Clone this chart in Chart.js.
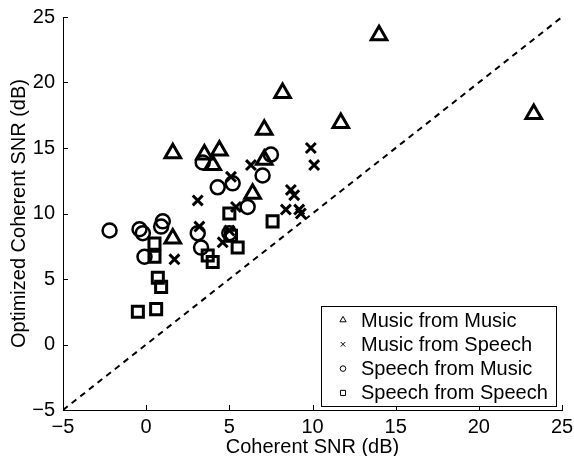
<!DOCTYPE html>
<html>
<head>
<meta charset="utf-8">
<script src="https://cdn.jsdelivr.net/npm/chart.js@4/dist/chart.umd.min.js"></script>
<style>
  html, body { margin: 0; padding: 0; background: #fff; }
  #wrap { width: 574px; height: 456px; }
</style>
</head>
<body>
<div id="wrap"><canvas id="c" width="574" height="456"></canvas></div>
<script>
// ---- data ----
const seriesNames = ["Music from Music", "Music from Speech", "Speech from Music", "Speech from Speech"];

const musicFromMusicX = [14.0, 23.3, 8.2, 7.1, 11.7, 1.6, 3.5, 4.4, 4.0, 7.1, 6.4, 1.6];
const musicFromMusicY = [23.6, 17.6, 19.2, 16.4, 16.9, 14.6, 14.5, 14.8, 13.7, 14.1, 11.5, 8.1];

const musicFromSpeechX = [9.9, 10.1, 8.7, 8.9, 8.4, 9.3, 9.2, 6.3, 3.1, 5.1, 5.4, 3.2, 5.0, 4.6, 1.7];
const musicFromSpeechY = [15.0, 13.7, 11.8, 11.4, 10.3, 10.0, 10.3, 13.7, 11.0, 12.8, 10.5, 9.0, 8.7, 7.8, 6.5];

const speechFromMusicX = [-2.2, -0.4, -0.2, 0.9, 1.0, -0.1, 3.1, 3.3, 5.0, 4.3, 5.2, 7.0, 7.5, 6.1, 3.4];
const speechFromMusicY = [8.7, 8.8, 8.5, 9.0, 9.4, 6.7, 8.5, 7.4, 8.5, 12.0, 12.3, 12.9, 14.5, 10.5, 13.9];

const speechFromSpeechX = [-0.5, 0.6, 0.7, 0.9, 0.5, 0.5, 3.7, 4.0, 5.1, 5.0, 5.5, 7.6];
const speechFromSpeechY = [2.5, 2.7, 5.1, 4.4, 6.7, 7.7, 6.8, 6.3, 8.3, 10.0, 7.4, 9.4];

const diagonal = [-5, 25];           // y = x reference line end points
const xTicks = [-5, 0, 5, 10, 15, 20, 25];
const yTicks = [-5, 0, 5, 10, 15, 20, 25];
const xTitle = "Coherent SNR (dB)";
const yTitle = "Optimized Coherent SNR (dB)";

// ---- build ----
function pts(xs, ys) { return xs.map((x, i) => ({ x: x, y: ys[i] })); }
const fmt = v => (v < 0 ? "\u2212" + Math.abs(v) : String(v));
const FONT = "'Liberation Sans', Arial, Helvetica, sans-serif";

const styles = [
  { pointStyle: 'triangle', radius: 9, width: 3, legendRadius: 3.6 },
  { pointStyle: 'crossRot', radius: 7, width: 3, legendRadius: 3.2 },
  { pointStyle: 'circle', radius: 7, width: 2.5, legendRadius: 2.8 },
  { pointStyle: 'rect', radius: 7.8, width: 3, legendRadius: 3.6 }
];
const seriesData = [
  pts(musicFromMusicX, musicFromMusicY),
  pts(musicFromSpeechX, musicFromSpeechY),
  pts(speechFromMusicX, speechFromMusicY),
  pts(speechFromSpeechX, speechFromSpeechY)
];

const datasets = seriesNames.map((name, i) => ({
  type: 'scatter',
  label: name,
  data: seriesData[i],
  pointStyle: styles[i].pointStyle,
  pointRadius: styles[i].radius,
  pointHoverRadius: styles[i].radius,
  pointBorderWidth: styles[i].width,
  borderColor: '#000',
  backgroundColor: 'rgba(0,0,0,0)',
  showLine: false
}));
datasets.push({
  type: 'line',
  label: 'y=x',
  data: pts(diagonal, diagonal),
  borderColor: '#000',
  borderWidth: 2,
  borderDash: [6, 5],
  pointRadius: 0,
  fill: false
});

const tickPlugin = {
  id: 'inTicks',
  afterDatasetsDraw(chart) {
    const ctx = chart.ctx, xs = chart.scales.x, ys = chart.scales.y, a = chart.chartArea;
    ctx.save();
    ctx.strokeStyle = '#000';
    ctx.lineWidth = 1;
    ctx.beginPath();
    xTicks.forEach(v => {
      const px = Math.round(xs.getPixelForValue(v)) + 0.5;
      ctx.moveTo(px, a.bottom); ctx.lineTo(px, a.bottom - 5);
    });
    yTicks.forEach(v => {
      const py = Math.round(ys.getPixelForValue(v)) + 0.5;
      ctx.moveTo(a.left, py); ctx.lineTo(a.left + 5, py);
    });
    ctx.stroke();
    ctx.restore();
  },
  afterDraw(chart) {
    // legend box (inside plot, lower right)
    const ctx = chart.ctx, a = chart.chartArea;
    const w = 235, h = 100;
    const right = a.right - 6, bottom = a.bottom - 4;
    const left = right - w, top = bottom - h;
    ctx.save();
    ctx.fillStyle = '#fff';
    ctx.fillRect(left, top, w, h);
    ctx.strokeStyle = '#000';
    ctx.lineWidth = 1;
    ctx.strokeRect(Math.round(left) + 0.5, Math.round(top) + 0.5, w, h);
    ctx.font = '20px ' + FONT;
    ctx.textBaseline = 'middle';
    seriesNames.forEach((name, i) => {
      const cy = top + 14 + i * 24.3;
      ctx.fillStyle = 'rgba(0,0,0,0)';
      ctx.strokeStyle = '#000';
      ctx.lineWidth = 1;
      Chart.helpers.drawPoint(ctx, {
        pointStyle: styles[i].pointStyle,
        radius: styles[i].legendRadius,
        borderWidth: 1,
        rotation: 0
      }, left + 22, cy);
      ctx.fillStyle = '#000';
      ctx.fillText(name, left + 40, cy + 1);
    });
    ctx.restore();
  }
};

new Chart(document.getElementById('c'), {
  data: { datasets: datasets },
  plugins: [tickPlugin],
  options: {
    responsive: false,
    animation: false,
    layout: { padding: { top: 17, right: 11, left: 0, bottom: 0 } },
    plugins: { legend: { display: false }, tooltip: { enabled: false } },
    scales: {
      x: {
        type: 'linear', min: -5, max: 25,
        afterBuildTicks: s => { s.ticks = xTicks.map(v => ({ value: v })); },
        afterFit: s => { s.height = 46; s.paddingLeft = 0; s.paddingRight = 0; },
        grid: { display: false, drawTicks: false },
        border: { display: true, color: '#000', width: 1 },
        ticks: { color: '#000', font: { family: FONT, size: 20 }, padding: 5, maxRotation: 0, callback: v => fmt(v) },
        title: { display: true, text: xTitle, color: '#000', font: { family: FONT, size: 20, lineHeight: 1 }, padding: { top: 0, bottom: -1 } }
      },
      y: {
        type: 'linear', min: -5, max: 25,
        afterBuildTicks: s => { s.ticks = yTicks.map(v => ({ value: v })); },
        afterFit: s => { s.width = 63; s.paddingTop = 0; s.paddingBottom = 0; },
        grid: { display: false, drawTicks: false },
        border: { display: true, color: '#000', width: 1 },
        ticks: { color: '#000', font: { family: FONT, size: 20 }, padding: 8, callback: v => fmt(v) },
        title: { display: true, text: yTitle, color: '#000', font: { family: FONT, size: 20, lineHeight: 1 }, padding: { top: 9, bottom: 0 } }
      }
    }
  }
});
</script>
</body>
</html>
